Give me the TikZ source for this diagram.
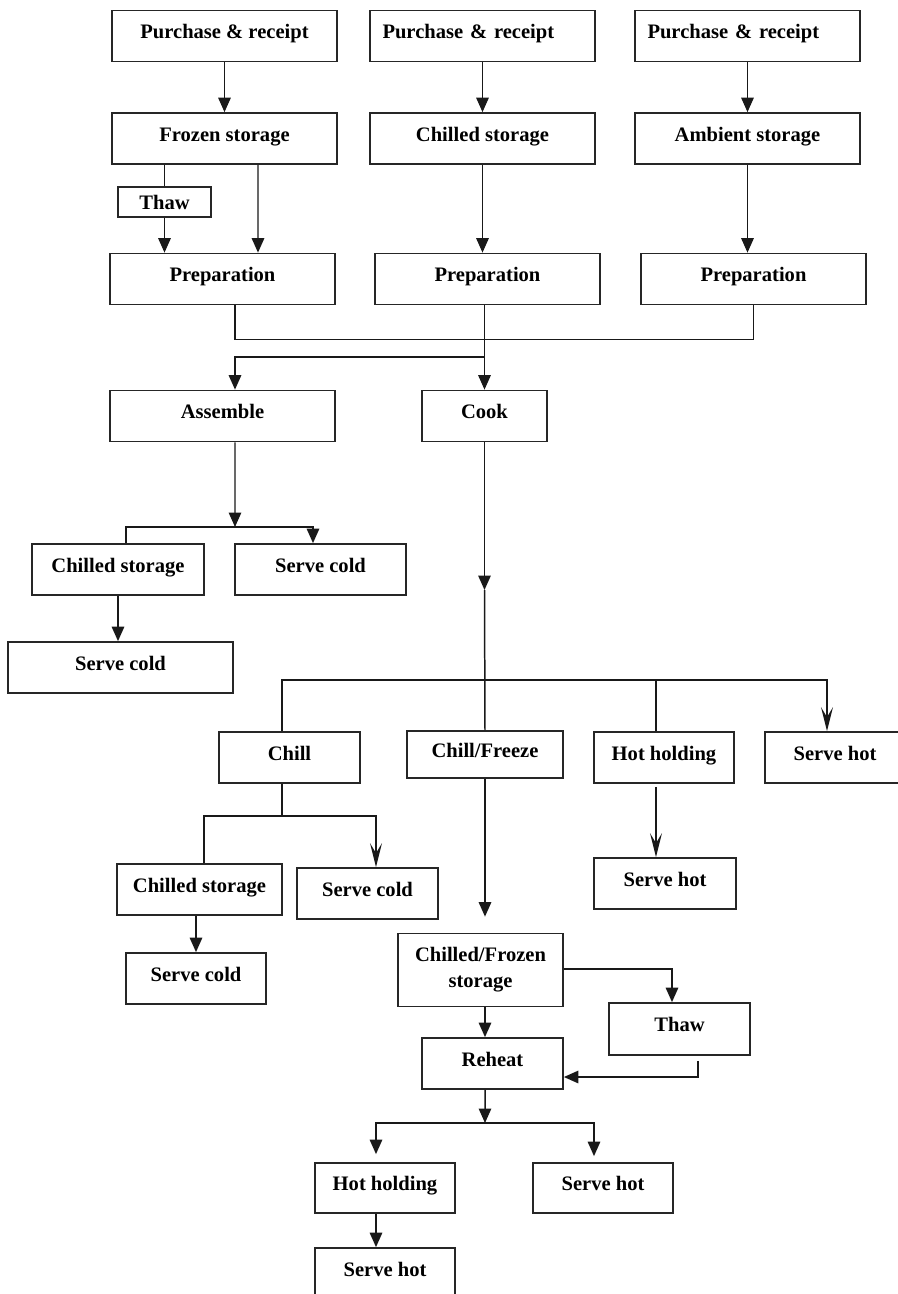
\documentclass[tikz,border=0pt]{standalone}
\usepackage{fontspec}
\setmainfont{Liberation Serif}
\usetikzlibrary{arrows.meta, positioning, calc}
\tikzset{
  box/.style   = {rectangle, draw=black!85, line width=1pt, align=center,
                  minimum height=1.02cm, inner sep=2pt,
                  font=\fontsize{11.7}{14.8}\selectfont\bfseries,
                  text height=0.7em, text depth=0.4em},
  line/.style  = {line width=0.85pt, color=black!90},
  arrow/.style = {-{Triangle[length=0.29cm, width=0.25cm]}, line width=0.85pt, color=black!90},
  sarrow/.style= {-{Stealth[length=0.48cm, width=0.24cm, inset=0.2cm]}, line width=0.85pt, color=black!90},
}
\begin{document}
\begin{tikzpicture}
\useasboundingbox (0,0) rectangle (17.94,-25.88);

% Receiving
\node[box, minimum width=4.5cm] (pr1) at (4.49,-0.72) {Purchase \& receipt};
\node[box, minimum width=4.5cm, text width=4cm, align=left] (pr2) at (9.65,-0.72) {Purchase \& receipt};
\node[box, minimum width=4.5cm, text width=4cm, align=left] (pr3) at (14.95,-0.72) {Purchase \& receipt};

% Storage
\node[box, minimum width=4.5cm] (frozen)  at (4.49,-2.77)  {Frozen storage};
\node[box, minimum width=4.5cm] (chilled) at (9.65,-2.77)  {Chilled storage};
\node[box, minimum width=4.5cm] (ambient) at (14.95,-2.77) {Ambient storage};
\node[box, minimum width=1.86cm, minimum height=0.6cm, inner sep=1pt, line width=0.8pt,
      text height={}, text depth={}] (thaw) at (3.29,-4.04) {Thaw};

% Preparation
\node[box, minimum width=4.5cm] (prep1) at (4.45,-5.58)  {Preparation};
\node[box, minimum width=4.5cm] (prep2) at (9.75,-5.58)  {Preparation};
\node[box, minimum width=4.5cm] (prep3) at (15.07,-5.58) {Preparation};

% Assemble / cook
\node[box, minimum width=4.5cm] (asm)  at (4.45,-8.32) {Assemble};
\node[box, minimum width=2.5cm] (cook) at (9.69,-8.32) {Cook};

% Cold branch
\node[box, minimum width=3.44cm] (cs1) at (2.36,-11.39) {Chilled storage};
\node[box, minimum width=3.42cm] (sc1) at (6.41,-11.39) {Serve cold};
\node[box, minimum width=4.5cm]  (sc2) at (2.41,-13.35) {Serve cold};

% After cooking
\node[box, minimum width=2.82cm] (chill) at (5.79,-15.15) {Chill};
\node[box, minimum width=3.12cm, minimum height=0.94cm] (cf) at (9.70,-15.09) {Chill/Freeze};
\node[box, minimum width=2.8cm]  (hh1) at (13.28,-15.15) {Hot holding};
\node[box, minimum width=2.8cm]  (sh1) at (16.70,-15.15) {Serve hot};
\node[box, minimum width=2.84cm] (sh2) at (13.30,-17.67) {Serve hot};

\node[box, minimum width=3.3cm]  (cs2) at (3.99,-17.79) {Chilled storage};
\node[box, minimum width=2.82cm] (sc3) at (7.35,-17.87) {Serve cold};
\node[box, minimum width=2.8cm]  (sc4) at (3.92,-19.57) {Serve cold};

% Chilled/frozen line
\node[box, minimum width=3.3cm, minimum height=1.46cm, text height={}, text depth={}] (cfs) at (9.61,-19.40) {Chilled/Frozen\\storage};
\node[box, minimum width=2.82cm, minimum height=1.04cm] (thaw2) at (13.59,-20.58) {Thaw};
\node[box, minimum width=2.82cm] (reheat) at (9.85,-21.27) {Reheat};
\node[box, minimum width=2.8cm, minimum height=1.0cm] (hh2) at (7.70,-23.76) {Hot holding};
\node[box, minimum width=2.8cm, minimum height=1.0cm] (sh3) at (12.06,-23.76) {Serve hot};
\node[box, minimum width=2.8cm]  (sh4) at (7.70,-25.47) {Serve hot};

% Receiving -> storage
\foreach \a/\b in {pr1/frozen, pr2/chilled, pr3/ambient}
  \draw[arrow] (\a.south) -- (\b.north);

% Storage -> preparation
\draw[line]  (frozen.south -| thaw.north) -- (thaw.north);
\draw[arrow] (thaw.south) -- (thaw.south |- prep1.north);
\draw[arrow] ([xshift=0.67cm]frozen.south) -- ($(frozen.south |- prep1.north)+(0.67,0)$);
\draw[arrow] (chilled.south) -- (chilled.south |- prep2.north);
\draw[arrow] (ambient.south) -- (ambient.south |- prep3.north);

% Merge and split
\draw[line]  ([xshift=0.25cm]prep1.south) -- ++(0,-0.68) -| (prep3.south);
\draw[arrow] (prep2.south -| cook.north) -- (cook.north);
\coordinate (split1) at (9.69,-7.14);
\draw[arrow] (split1) -| ([xshift=0.25cm]asm.north);

% Assemble branch
\coordinate (split2) at (4.70,-10.54);
\draw[arrow] ([xshift=0.25cm]asm.south) -- (split2);
\draw[line]  ([xshift=0.16cm]cs1.north) |- (split2);
\draw[arrow] (split2) -| ([xshift=-0.15cm]sc1.north);
\draw[arrow] (cs1.south) -- (cs1.south |- sc2.north);

% Cook branch
\coordinate (cookmid) at (9.69,-11.80);
\coordinate (split3) at (9.69,-13.60);
\draw[arrow] (cook.south) -- (cookmid);
\draw[line]  (cookmid) -- (cf.north);
\draw[line]  ([xshift=-0.15cm]chill.north) |- (split3);
\draw[sarrow] (split3) -| ([xshift=-0.16cm]sh1.north);
\draw[line]  ([xshift=-0.16cm]hh1.north) -- ($(hh1.north |- split3)+(-0.16,0)$);
\draw[sarrow] ([xshift=-0.16cm,yshift=-0.06cm]hh1.south) -- ($(hh1.south |- sh2.north)+(-0.16,0)$);

% Chill branch
\coordinate (split4) at (5.64,-16.32);
\draw[line]  ([xshift=-0.15cm]chill.south) -- (split4);
\draw[line]  ([xshift=0.09cm]cs2.north) |- (split4);
\draw[sarrow] (split4) -| ([xshift=0.17cm]sc3.north);
\draw[arrow] (cs2.south -| sc4.north) -- (sc4.north);

% Chill/freeze line
\draw[arrow] (cf.south) -- ($(cf.south |- cfs.north)+(0,0.32)$);
\draw[arrow] ([yshift=0.02cm]cfs.east) -| ([xshift=-0.15cm]thaw2.north);
\draw[arrow] ([xshift=0.09cm]cfs.south) -- ($(cfs.south |- reheat.north)+(0.09,0)$);
\draw[arrow] ([xshift=0.37cm,yshift=-0.1cm]thaw2.south) |- ([yshift=-0.27cm]reheat.east);

% Reheat split
\coordinate (split5) at (9.70,-22.46);
\draw[arrow] ([xshift=-0.15cm]reheat.south) -- (split5);
\draw[arrow] (split5) -| ([xshift=-0.18cm,yshift=0.16cm]hh2.north);
\draw[arrow] (split5) -| ([xshift=-0.18cm,yshift=0.12cm]sh3.north);
\draw[arrow] ([xshift=-0.18cm]hh2.south) -- ($(hh2.south |- sh4.north)+(-0.18,0)$);

\end{tikzpicture}
\end{document}
